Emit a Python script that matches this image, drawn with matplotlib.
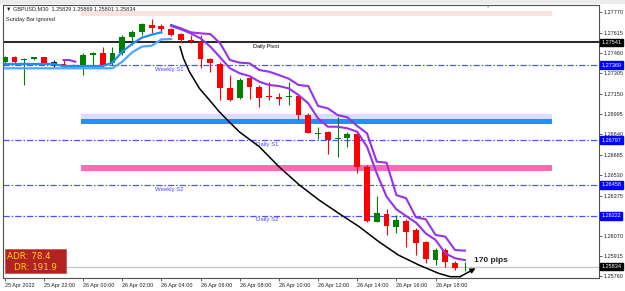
import matplotlib
matplotlib.use("Agg")
import matplotlib.pyplot as plt
import matplotlib.transforms as mtrans
from matplotlib.patches import Rectangle

# ---- data (GBPUSD M30) ----
opens = [1.27394, 1.27432, 1.27407, 1.27412, 1.27427, 1.27382, 1.27377, 1.27356, 1.27369, 1.27445,
         1.27458, 1.27382, 1.27458, 1.27585, 1.27618, 1.27674, 1.27666, 1.27641, 1.27602, 1.27559,
         1.27547, 1.27412, 1.27377, 1.27191, 1.27115, 1.27268, 1.27199, 1.27130, 1.27128, 1.27123,
         1.27133, 1.26988, 1.26844, 1.26856, 1.26808, 1.26813, 1.26841, 1.26595, 1.26176, 1.26232,
         1.26138, 1.26184, 1.26113, 1.26019, 1.25884, 1.25960, 1.25859, 1.25829]
highs = [1.27438, 1.27438, 1.27420, 1.27432, 1.27432, 1.27407, 1.27407, 1.27374, 1.27458, 1.27471,
         1.27509, 1.27509, 1.27597, 1.27635, 1.27691, 1.27717, 1.27681, 1.27648, 1.27610, 1.27597,
         1.27597, 1.27420, 1.27394, 1.27293, 1.27273, 1.27285, 1.27217, 1.27242, 1.27153, 1.27242,
         1.27141, 1.27001, 1.26894, 1.26866, 1.26976, 1.26861, 1.26861, 1.26608, 1.26372, 1.26270,
         1.26227, 1.26194, 1.26131, 1.26032, 1.25973, 1.25973, 1.25879, 1.25869]
lows = [1.27388, 1.27382, 1.27217, 1.27407, 1.27377, 1.27356, 1.27344, 1.27351, 1.27293, 1.27369,
        1.27356, 1.27369, 1.27445, 1.27521, 1.27597, 1.27610, 1.27610, 1.27590, 1.27534, 1.27534,
        1.27344, 1.27318, 1.27103, 1.27098, 1.27108, 1.27110, 1.27047, 1.27103, 1.27064, 1.27064,
        1.26950, 1.26849, 1.26806, 1.26691, 1.26671, 1.26747, 1.26549, 1.26176, 1.26171, 1.26075,
        1.26087, 1.25986, 1.25922, 1.25859, 1.25846, 1.25834, 1.25808, 1.25801]
closes = [1.27432, 1.27394, 1.27412, 1.27427, 1.27382, 1.27382, 1.27356, 1.27369, 1.27445, 1.27463,
          1.27369, 1.27458, 1.27585, 1.27618, 1.27679, 1.27653, 1.27643, 1.27597, 1.27559, 1.27554,
          1.27412, 1.27382, 1.27191, 1.27103, 1.27255, 1.27199, 1.27115, 1.27123, 1.27113, 1.27130,
          1.26988, 1.26854, 1.26851, 1.26798, 1.26816, 1.26841, 1.26595, 1.26184, 1.26240, 1.26143,
          1.26189, 1.26100, 1.26011, 1.25889, 1.25960, 1.25866, 1.25826, 1.25834]

# blue channel lines (start at bar 0)
blue_upper = [1.27377, 1.27377, 1.27377, 1.27377, 1.27377, 1.27377, 1.27361, 1.27361, 1.27361,
              1.27361, 1.27361, 1.27387, 1.27471, 1.27529, 1.27577, 1.27600, 1.27618]
blue_lower = [1.27344, 1.27344, 1.27344, 1.27344, 1.27344, 1.27344, 1.27344, 1.27344, 1.27344,
              1.27344, 1.27344, 1.27344, 1.27394, 1.27465, 1.27509, 1.27516, 1.27564, 1.27567]

# purple lines (start at bar 17)
purple_start = 17
purple_outer = [1.27674, 1.27648, 1.27618, 1.27610, 1.27605, 1.27534, 1.27407, 1.27387, 1.27382,
                1.27331, 1.27318, 1.27293, 1.27265, 1.27217, 1.27209, 1.27057, 1.27039, 1.26988,
                1.26971, 1.26905, 1.26849, 1.26633, 1.26625, 1.26379, 1.26354, 1.26209, 1.26194,
                1.26075, 1.26062, 1.25960, 1.25955]
purple_inner = [1.27666, 1.27641, 1.27610, 1.27572, 1.27509, 1.27427, 1.27344, 1.27306, 1.27285,
                1.27242, 1.27217, 1.27209, 1.27191, 1.27141, 1.27077, 1.26963, 1.26899, 1.26899,
                1.26887, 1.26861, 1.26747, 1.26544, 1.26367, 1.26270, 1.26219, 1.26169, 1.26087,
                1.26037, 1.25935, 1.25897, 1.25884]
purple_early_x = [6, 6.6, 7.2]
purple_early = [1.27407, 1.27407, 1.27394]

# hand drawn black curve
curve_x = [17.9, 18.25, 18.86, 19.88, 20.9, 21.9, 22.9, 23.95, 26.0, 28.0, 30.1, 32.1, 34.1,
           36.2, 38.2, 40.2, 42.3, 44.3, 45.5, 46.5]
curve_y = [1.27509, 1.27420, 1.27318, 1.27191, 1.27103, 1.27014, 1.26938, 1.26861, 1.26747,
           1.26595, 1.26455, 1.26341, 1.26240, 1.26138, 1.26024, 1.25922, 1.25846, 1.25783,
           1.25757, 1.25757]
arrow_end = (48.1, 1.25821)

# levels
pivot = 1.27541
levels = {"Weekly S1": 1.27369, "Daily S1": 1.26797, "Weekly S2": 1.26458, "Daily S2": 1.26222}
bid = 1.25834

# zones (lo, hi)
zone_x = (7.8, 55.9)
zone_top_pink = (1.27744, 1.27780)
zone_lavender = (1.26920, 1.26996)
zone_blue = (1.26920, 1.26955)
zone_pink = (1.26564, 1.26605)

price_ticks = [1.27770, 1.27615, 1.27460, 1.27305, 1.27150, 1.26995, 1.26840, 1.26685,
               1.26530, 1.26375, 1.26070, 1.25915, 1.25760]
time_ticks = [0, 4, 8, 12, 16, 20, 24, 28, 32, 36, 40, 44]
time_labels = ["25 Apr 2022", "25 Apr 22:00", "26 Apr 00:00", "26 Apr 02:00", "26 Apr 04:00",
               "26 Apr 06:00", "26 Apr 08:00", "26 Apr 10:00", "26 Apr 12:00", "26 Apr 14:00",
               "26 Apr 16:00", "26 Apr 18:00"]

W, H = 625, 291
plt.rcParams['font.family'] = ['Liberation Sans', 'DejaVu Sans']
fig = plt.figure(figsize=(W / 100, H / 100), dpi=100)
fig.patch.set_facecolor('white')


def px(x, y):
    return x / W, 1 - y / H


ax = fig.add_axes([3 / W, 13 / H, 596 / W, 273 / H])
ax.set_xlim(-0.18, 60.7)
ax.set_ylim(1.25747, 1.27826)

# zones
for (lo, hi), col in [(zone_top_pink, '#fde0e0'), (zone_lavender, '#dcdcfa'),
                      (zone_blue, '#1e90ff'), (zone_pink, '#ff69b4')]:
    ax.fill_between(zone_x, lo, hi, color=col, lw=0, zorder=1)

# level lines
ax.axhline(bid, color='#c8c8c8', lw=1, zorder=1)
ax.axhline(pivot, color='black', lw=1.2, zorder=2)
for name, val in levels.items():
    ax.axhline(val, color='#5050ff', lw=0.9, dashes=(5, 1.6, 1.2, 1.6), zorder=2)

ax.text(25.4, 1.27509, "Daily Pivot", fontsize=4, color='black', va='center', zorder=6)
ax.text(15.3, 1.27336, "Weekly S1", fontsize=4.3, color='#4444ff', va='center', zorder=6)
ax.text(25.7, 1.26765, "Daily S1", fontsize=4.3, color='#4444ff', va='center', zorder=6)
ax.text(15.3, 1.26422, "Weekly S2", fontsize=4.3, color='#4444ff', va='center', zorder=6)
ax.text(25.7, 1.26189, "Daily S2", fontsize=4.3, color='#4444ff', va='center', zorder=6)

# candles
for i in range(len(opens)):
    o, h, l, c = opens[i], highs[i], lows[i], closes[i]
    if c > o:
        col = '#008000'
    elif c < o:
        col = '#ff0000'
    else:
        col = 'black'
    ax.vlines(i, l, h, color=col, lw=0.8, zorder=3)
    if abs(c - o) < 0.00004:
        ax.hlines((o + c) / 2, i - 0.3, i + 0.3, color=col, lw=1.2, zorder=4)
    else:
        ax.bar(i, c - o, bottom=o, width=0.6, color=col, lw=0, zorder=4)

# blue channel
ax.plot(range(len(blue_lower)), blue_lower, color='#4aa8ff', lw=1.6, zorder=5)
ax.plot(range(len(blue_upper)), blue_upper, color='#1e8cff', lw=1.6, zorder=5)

# purple channel
px_idx = range(purple_start, purple_start + len(purple_outer))
ax.plot(px_idx, purple_outer, color='#9932e6', lw=1.5, zorder=5)
ax.plot(px_idx, purple_inner, color='#9932e6', lw=1.5, zorder=5)
ax.plot(purple_early_x, purple_early, color='#9932e6', lw=1.5, zorder=5)

# black curve + arrow
ax.plot(curve_x, curve_y, color='black', lw=1.1, zorder=6)
ax.annotate("", xy=arrow_end, xytext=(curve_x[-1], curve_y[-1]),
            arrowprops=dict(arrowstyle='-|>', color='black', lw=1.1,
                            mutation_scale=7, shrinkA=0, shrinkB=0), zorder=6)
ax.text(47.9, 1.25884, "170 pips", fontsize=6, fontweight='bold', color='#222222',
        va='center', zorder=6)

# axes styling
ax.set_facecolor('white')
for s in ax.spines.values():
    s.set_color('#505050')
    s.set_linewidth(0.8)
ax.yaxis.tick_right()
ax.set_yticks(price_ticks)
ax.set_yticklabels(["%.5f" % v for v in price_ticks])
ax.tick_params(axis='y', labelsize=4, length=2, width=0.5, pad=1, colors='#222222')
ax.set_xticks(time_ticks)
ax.set_xticklabels(time_labels, ha='left')
ax.tick_params(axis='x', labelsize=4, length=2, width=0.5, pad=1.5, colors='#222222')

# price highlight boxes on the axis
trans = mtrans.blended_transform_factory(ax.transAxes, ax.transData)
for val, col in [(pivot, 'black'), (levels["Weekly S1"], '#0000ff'), (levels["Daily S1"], '#0000ff'),
                 (levels["Weekly S2"], '#0000ff'), (levels["Daily S2"], '#0000ff'), (bid, 'black')]:
    ax.text(1.004, val, "%.5f" % val, transform=trans, fontsize=4, color='white',
            va='center', ha='left', clip_on=False, zorder=10,
            bbox=dict(boxstyle='square,pad=0.25', fc=col, ec=col))

# header text
fig.text(*px(6, 9), "\u25bc GBPUSD,M30  1.25829 1.25869 1.25801 1.25834", fontsize=4,
         va='center', color='#222222')
fig.text(*px(6, 19), "Sunday Bar ignored", fontsize=4, va='center', color='#222222')

# top toolbar strip
fig.patches.append(Rectangle(px(0, 4), 1, 4 / H, transform=fig.transFigure,
                             fc='#ececec', ec='none', zorder=0))
fig.text(*px(487, 7), "\u25bc", fontsize=3, color='#a0a0a0', ha='center', va='center')

# ADR box
fig.patches.append(Rectangle(px(5, 273), 61 / W, 24 / H, transform=fig.transFigure,
                             fc='#b22222', ec='#cc4444', lw=0.5, zorder=20))
fig.text(*px(7, 256.5), "ADR: 78.4", fontsize=6.3, color='#ffd700', va='center',
         family='DejaVu Sans', zorder=21)
fig.text(*px(14, 267), "DR: 191.9", fontsize=6.3, color='#ffd700', va='center',
         family='DejaVu Sans', zorder=21)

fig.savefig("out.png", dpi=100, facecolor='white')
